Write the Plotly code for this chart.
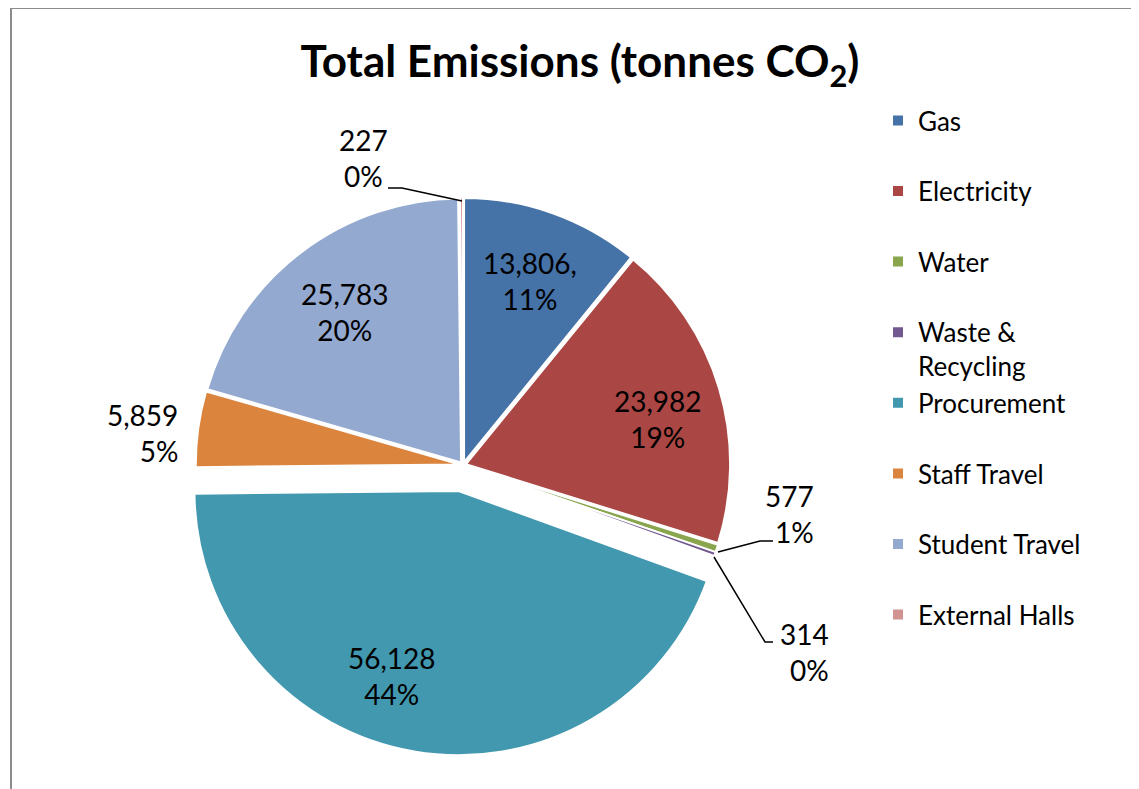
import plotly.graph_objects as go

W, H = 1139, 789
OFF = 8  # page body margin offset of the rendered figure

categories = ["Gas", "Electricity", "Water", "Waste & Recycling", "Procurement",
              "Staff Travel", "Student Travel", "External Halls"]
values = [13806, 23982, 577, 314, 56128, 5859, 25783, 227]
percent_labels = ["11%", "19%", "1%", "0%", "44%", "5%", "20%", "0%"]
value_labels = ["13,806,", "23,982", "577", "314", "56,128", "5,859", "25,783", "227"]
legend_labels = ["Gas<br> ", "Electricity<br> ", "Water<br> ", "Waste &<br>Recycling",
                 "Procurement<br> ", "Staff Travel<br> ", "Student Travel<br> ", "External Halls<br> "]
colors = ["#4572A7", "#AA4643", "#89A54E", "#71588F", "#4198AF", "#DB843D", "#93A9CF", "#D19392"]
pulls = [0.012, 0.012, 0.012, 0.012, 0.1, 0.012, 0.012, 0.012]

FONT = "Lato"


def px(x):
    return (x - OFF) / W


def py(y):
    return 1 - (y - OFF) / H


fig = go.Figure(go.Pie(
    labels=legend_labels,
    values=values,
    textinfo="none",
    marker=dict(colors=colors, line=dict(color="white", width=2)),
    pull=pulls,
    sort=False,
    direction="clockwise",
    rotation=0,
    domain=dict(x=[px(172.5), px(753.5)], y=[py(755.5), py(174.5)]),
))

# data label placement (screen px): x, y, xanchor/align
label_pos = {
    0: (530, 281, "center"),
    1: (658, 419, "center"),
    2: (816, 514, "right"),
    3: (831, 652, "right"),
    4: (392, 676, "center"),
    5: (180, 433, "right"),
    6: (345, 312, "center"),
    7: (363, 158, "center"),
}
annotations = []
for i, (x, y, anc) in label_pos.items():
    annotations.append(dict(
        x=px(x), y=py(y), xref="paper", yref="paper",
        text=f"{value_labels[i]}<br>{percent_labels[i]}", showarrow=False,
        xanchor=anc, yanchor="middle", align=anc,
        font=dict(family=FONT, size=28, color="black")))

leader_lines = [
    [(388, 188), (402, 188), (462, 201)],
    [(773, 541), (760, 541), (718, 552)],
    [(773, 642), (765, 642), (714, 557)],
]
shapes = []
for pts in leader_lines:
    path = "M " + " L ".join(f"{px(a)} {py(b)}" for a, b in pts)
    shapes.append(dict(type="path", path=path, xref="paper", yref="paper",
                       line=dict(color="black", width=1.5)))

# chart border
shapes.append(dict(type="rect", xref="paper", yref="paper",
                   x0=px(11), y0=-0.05, x1=1.05, y1=py(8),
                   line=dict(color="#8c8c8c", width=2), fillcolor="rgba(0,0,0,0)"))

fig.update_layout(
    width=W, height=H,
    margin=dict(l=0, r=0, t=0, b=0),
    paper_bgcolor="white",
    plot_bgcolor="white",
    title=dict(text="<b>Total Emissions (tonnes CO<sub>2</sub>)</b>",
               x=px(580), y=py(62), xanchor="center", yanchor="middle",
               font=dict(family=FONT, size=44, color="black")),
    showlegend=True,
    legend=dict(x=px(878), y=py(97), xanchor="left", yanchor="top",
                valign="top", font=dict(family=FONT, size=26, color="black"),
                bgcolor="rgba(0,0,0,0)", traceorder="normal"),
    annotations=annotations,
    shapes=shapes,
)

fig.write_html("out.html")
